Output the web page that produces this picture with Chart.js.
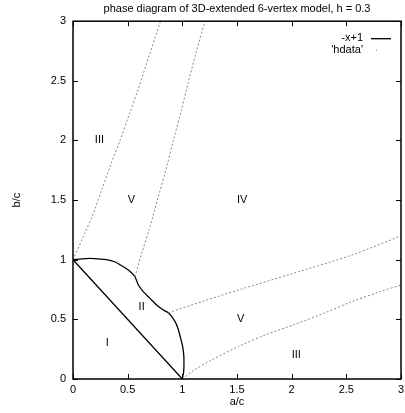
<!DOCTYPE html>
<html>
<head>
<meta charset="utf-8">
<script src="https://cdn.jsdelivr.net/npm/chart.js@4"></script>
<style>
  body { margin: 0; background: #fff; }
  canvas { display: block; }
</style>
</head>
<body>
<canvas id="phaseChart" width="405" height="413"></canvas>
<script>
// axis ticks
const xTicks = [0, 0.5, 1, 1.5, 2, 2.5, 3];
const yTicks = [0, 0.5, 1, 1.5, 2, 2.5, 3];

// -x+1 line
const lineX = [0, 1];
const lineY = [1, 0];

// solid boundary of region II
const boundX = [0, 0.08, 0.155, 0.23, 0.308, 0.38, 0.43, 0.48, 0.53, 0.567, 0.598, 0.643, 0.704, 0.765, 0.826, 0.872, 0.918, 0.945, 0.963, 0.985, 1.003, 1.013, 1.015, 1.012, 1.0];
const boundY = [1, 1.008, 1.011, 1.008, 1.0, 0.983, 0.958, 0.93, 0.895, 0.857, 0.788, 0.732, 0.676, 0.62, 0.578, 0.556, 0.505, 0.46, 0.415, 0.34, 0.271, 0.2, 0.131, 0.06, 0];

// 'hdata' branches
const branchAX = [0, 0.094, 0.186, 0.262, 0.338, 0.43, 0.515, 0.6, 0.7, 0.8];
const branchAY = [1, 1.193, 1.389, 1.584, 1.779, 2.0, 2.22, 2.44, 2.72, 3.0];
const branchBX = [0.567, 0.628, 0.704, 0.78, 0.857, 0.918, 0.99, 1.055, 1.13, 1.207];
const branchBY = [0.857, 1.053, 1.276, 1.528, 1.779, 2.0, 2.25, 2.49, 2.75, 3.0];
const branchCX = [0.872, 1.2, 1.512, 2.015, 2.549, 3.0];
const branchCY = [0.556, 0.655, 0.746, 0.886, 1.039, 1.2];
const branchDX = [1.0, 1.1, 1.238, 1.512, 1.756, 2.015, 2.29, 2.549, 2.808, 3.0];
const branchDY = [0, 0.07, 0.145, 0.271, 0.369, 0.453, 0.55, 0.648, 0.732, 0.788];

// region labels
const regionText = ["III", "V", "IV", "II", "I", "V", "III"];
const regionX = [0.2, 0.5, 1.5, 0.6, 0.3, 1.5, 2.0];
const regionY = [2.0, 1.5, 1.5, 0.6, 0.3, 0.5, 0.2];

function toPoints(xs, ys) {
  return xs.map((x, i) => ({ x: x, y: ys[i] }));
}

// join branches into one dataset, with gaps between them
const hdataPoints = [];
[[branchAX, branchAY], [branchBX, branchBY], [branchCX, branchCY], [branchDX, branchDY]].forEach((b, i) => {
  if (i > 0) hdataPoints.push({ x: b[0][0], y: null });
  toPoints(b[0], b[1]).forEach((p) => hdataPoints.push(p));
});

Chart.defaults.font.family = "'Liberation Sans', Arial, sans-serif";
Chart.defaults.font.size = 11;
Chart.defaults.color = "#000";

// border box, inward ticks, region labels, legend
const gnuplotLook = {
  id: "gnuplotLook",
  afterDatasetsDraw(chart) {
    const ctx = chart.ctx;
    const area = chart.chartArea;
    const xs = chart.scales.x;
    const ys = chart.scales.y;
    ctx.save();

    // ticks on all four sides
    ctx.strokeStyle = "#000";
    ctx.lineWidth = 1;
    ctx.beginPath();
    xs.ticks.forEach((t) => {
      const px = Math.round(xs.getPixelForValue(t.value)) + 0.5;
      ctx.moveTo(px, area.bottom);
      ctx.lineTo(px, area.bottom - 5);
      ctx.moveTo(px, area.top);
      ctx.lineTo(px, area.top + 5);
    });
    ys.ticks.forEach((t) => {
      const py = Math.round(ys.getPixelForValue(t.value)) + 0.5;
      ctx.moveTo(area.left, py);
      ctx.lineTo(area.left + 5, py);
      ctx.moveTo(area.right, py);
      ctx.lineTo(area.right - 5, py);
    });
    ctx.stroke();

    // frame
    ctx.lineWidth = 1.5;
    ctx.strokeRect(area.left, area.top, area.right - area.left, area.bottom - area.top);

    // region labels
    ctx.fillStyle = "#000";
    ctx.font = "11px 'Liberation Sans', Arial, sans-serif";
    ctx.textAlign = "left";
    ctx.textBaseline = "middle";
    regionText.forEach((txt, i) => {
      ctx.fillText(txt, xs.getPixelForValue(regionX[i]), ys.getPixelForValue(regionY[i]));
    });

    // legend, gnuplot style: text then sample
    const entries = chart.data.datasets.filter((d) => d.label);
    entries.forEach((d, i) => {
      const y = area.top + 17 + i * 11.5;
      ctx.textAlign = "right";
      ctx.fillStyle = "#000";
      ctx.fillText(d.label, area.right - 38, y);
      if (d.borderDash) {
        // dotted data: sample is a single dot
        ctx.fillStyle = d.borderColor;
        ctx.fillRect(area.right - 25, y, 1, 1);
      } else {
        ctx.strokeStyle = d.borderColor;
        ctx.lineWidth = d.borderWidth;
        ctx.beginPath();
        ctx.moveTo(area.right - 30, y + 0.5);
        ctx.lineTo(area.right - 10, y + 0.5);
        ctx.stroke();
      }
    });
    ctx.restore();
  },
};

new Chart(document.getElementById("phaseChart"), {
  type: "scatter",
  data: {
    datasets: [
      {
        label: "-x+1",
        data: toPoints(lineX, lineY),
        showLine: true,
        borderColor: "#000",
        borderWidth: 1.3,
        pointRadius: 0,
      },
      {
        label: "'hdata'",
        data: hdataPoints,
        showLine: true,
        borderColor: "#888",
        borderWidth: 1,
        borderDash: [2, 2],
        pointRadius: 0,
        tension: 0.3,
        spanGaps: false,
      },
      {
        label: "",
        data: toPoints(boundX, boundY),
        showLine: true,
        borderColor: "#000",
        borderWidth: 1.3,
        pointRadius: 0,
        tension: 0.2,
      },
    ],
  },
  options: {
    responsive: false,
    animation: false,
    layout: { padding: { right: 0, top: 1 } },
    plugins: {
      legend: { display: false },
      tooltip: { enabled: false },
      title: {
        display: true,
        text: "phase diagram of 3D-extended 6-vertex model, h = 0.3",
        fullSize: false,
        font: { size: 11, weight: "normal" },
        padding: { top: 1, bottom: 6 },
      },
    },
    scales: {
      x: {
        type: "linear",
        min: 0,
        max: 3,
        afterBuildTicks: (scale) => {
          scale.ticks = xTicks.map((v) => ({ value: v }));
        },
        grid: { display: false, drawTicks: false },
        border: { display: false },
        ticks: { padding: 4, maxRotation: 0, callback: (v) => String(v) },
        title: { display: true, text: "a/c", padding: { top: 0, bottom: 4 } },
        afterFit: (scale) => {
          scale.height = 34;
          scale.paddingRight = 4;
        },
      },
      y: {
        type: "linear",
        min: 0,
        max: 3,
        afterBuildTicks: (scale) => {
          scale.ticks = yTicks.map((v) => ({ value: v }));
        },
        grid: { display: false, drawTicks: false },
        border: { display: false },
        ticks: { padding: 7, callback: (v) => String(v) },
        title: { display: true, text: "b/c", padding: { top: 10, bottom: 0 } },
        afterFit: (scale) => {
          scale.width = 73;
        },
      },
    },
  },
  plugins: [gnuplotLook],
});
</script>
</body>
</html>
